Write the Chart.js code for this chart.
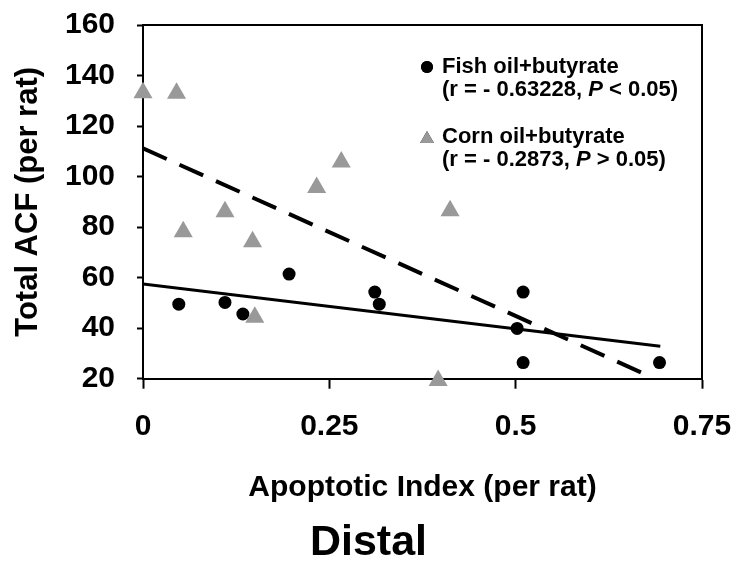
<!DOCTYPE html>
<html>
<head>
<meta charset="utf-8">
<script src="https://cdn.jsdelivr.net/npm/chart.js@4.4.1/dist/chart.umd.min.js"></script>
<style>
  html, body { margin: 0; padding: 0; background: #ffffff; }
  #wrap { width: 737px; height: 567px; }
</style>
</head>
<body>
<div id="wrap"><canvas id="acfChart" width="737" height="567"></canvas></div>
<script>
/* ============================================
   Distal: Total ACF vs Apoptotic Index
   ============================================ */

// Fish oil + butyrate (black circles)
const fishApoptotic = [0.048, 0.110, 0.134, 0.196, 0.311, 0.317, 0.510, 0.502, 0.510, 0.693];
const fishACF = [49.5, 50.2, 45.6, 61.4, 54.3, 49.5, 54.3, 39.9, 26.4, 26.4];

// Corn oil + butyrate (grey triangles)
const cornApoptotic = [0, 0.045, 0.054, 0.110, 0.147, 0.150, 0.233, 0.266, 0.412, 0.396];
const cornACF = [133.2, 133.0, 78.2, 86.1, 74.2, 44.3, 95.7, 105.8, 86.5, 19.3];

// Regression lines (end points as drawn)
const fishTrendX = [0, 0.694];
const fishTrendY = [57.5, 32.8];
const cornTrendX = [0, 0.678];
const cornTrendY = [111.2, 21.2];

// Axes
const xTicks = [0, 0.25, 0.5, 0.75];
const yTicks = [20, 40, 60, 80, 100, 120, 140, 160];

// Legend text
const legendFish = ['Fish oil+butyrate', '(r = - 0.63228, ', 'P', ' < 0.05)'];
const legendCorn = ['Corn oil+butyrate', '(r = - 0.2873, ', 'P', ' > 0.05)'];

const FONT = "'Liberation Sans', Arial, sans-serif";
const GREY = '#999999';

function toPoints(xs, ys) {
    return xs.map((x, i) => ({ x: x, y: ys[i] }));
}

/**
 * Frame on top and right of the plot area
 */
const framePlugin = {
    id: 'frame',
    beforeDatasetsDraw(chart) {
        const { ctx, chartArea: a } = chart;
        ctx.save();
        ctx.strokeStyle = '#000';
        ctx.lineWidth = 2;
        ctx.beginPath();
        ctx.moveTo(a.left, a.top);
        ctx.lineTo(a.right, a.top);
        ctx.lineTo(a.right, a.bottom);
        ctx.stroke();
        ctx.restore();
    }
};

/**
 * Two-line legend with italic P
 */
const legendPlugin = {
    id: 'twoLineLegend',
    afterDatasetsDraw(chart) {
        const { ctx, chartArea: a } = chart;
        const tx = a.left + 299;
        const mx = a.left + 284;
        const size = 22;

        function drawEntry(lines, y, style, color, radius) {
            Chart.helpers.drawPoint(ctx, {
                pointStyle: style, radius: radius, borderWidth: 0, rotation: 0
            }, mx, y + (style === 'triangle' ? 2 : 0));
            ctx.fillStyle = color;
            ctx.fill();

            ctx.fillStyle = '#000';
            ctx.textBaseline = 'middle';
            ctx.textAlign = 'left';
            ctx.font = 'bold ' + size + 'px ' + FONT;
            ctx.fillText(lines[0], tx, y);

            let x = tx;
            const y2 = y + 23;
            ctx.fillText(lines[1], x, y2);
            x += ctx.measureText(lines[1]).width;
            ctx.font = 'italic bold ' + size + 'px ' + FONT;
            ctx.fillText(lines[2], x, y2);
            x += ctx.measureText(lines[2]).width;
            ctx.font = 'bold ' + size + 'px ' + FONT;
            ctx.fillText(lines[3], x, y2);
        }

        ctx.save();
        drawEntry(legendFish, a.top + 42, 'circle', '#000', 6);
        drawEntry(legendCorn, a.top + 112, 'triangle', GREY, 8);
        ctx.restore();
    }
};

const tickFont = { family: FONT, size: 30, weight: 'bold' };

const config = {
    type: 'scatter',
    data: {
        datasets: [
            {
                label: 'Fish oil+butyrate',
                data: toPoints(fishApoptotic, fishACF),
                pointStyle: 'circle',
                pointRadius: 6.5,
                pointBackgroundColor: '#000',
                pointBorderWidth: 0,
                clip: false,
                order: 1
            },
            {
                label: 'Corn oil+butyrate',
                data: toPoints(cornApoptotic, cornACF),
                pointStyle: 'triangle',
                pointRadius: 11,
                pointBackgroundColor: GREY,
                pointBorderWidth: 0,
                clip: false,
                order: 2
            },
            {
                type: 'line',
                label: 'Fish trend',
                data: toPoints(fishTrendX, fishTrendY),
                borderColor: '#000',
                borderWidth: 3,
                pointRadius: 0,
                fill: false,
                order: 3
            },
            {
                type: 'line',
                label: 'Corn trend',
                data: toPoints(cornTrendX, cornTrendY),
                borderColor: '#000',
                borderWidth: 4,
                borderDash: [26, 14],
                pointRadius: 0,
                fill: false,
                order: 4
            }
        ]
    },
    options: {
        responsive: false,
        animation: false,
        layout: { padding: { left: 0, right: 0, top: 25, bottom: 0 } },
        plugins: {
            legend: { display: false },
            tooltip: { enabled: false },
            title: {
                display: true,
                position: 'bottom',
                text: 'Distal',
                color: '#000',
                font: { family: FONT, size: 43, weight: 'bold', lineHeight: 1.1 },
                padding: { top: 0, bottom: 0 }
            }
        },
        scales: {
            x: {
                type: 'linear',
                min: xTicks[0],
                max: xTicks[xTicks.length - 1],
                afterBuildTicks: (scale) => { scale.ticks = xTicks.map(v => ({ value: v })); },
                afterFit: (scale) => {
                    scale.height = 141;
                    scale.paddingLeft = 0;
                    scale.paddingRight = 35;
                },
                border: { display: true, color: '#000', width: 2 },
                grid: { drawOnChartArea: false, drawTicks: true, tickLength: 10, tickWidth: 2, tickColor: '#000' },
                ticks: {
                    color: '#000',
                    font: tickFont,
                    padding: 20,
                    maxRotation: 0,
                    callback: (v) => String(+v.toFixed(2))
                },
                title: {
                    display: true,
                    text: 'Apoptotic Index (per rat)',
                    color: '#000',
                    font: { family: FONT, size: 30, weight: 'bold' },
                    padding: { top: 0, bottom: 14 }
                }
            },
            y: {
                type: 'linear',
                min: yTicks[0],
                max: yTicks[yTicks.length - 1],
                afterBuildTicks: (scale) => { scale.ticks = yTicks.map(v => ({ value: v })); },
                afterFit: (scale) => {
                    scale.width = 143;
                    scale.paddingTop = 10;
                    scale.paddingBottom = 10;
                },
                border: { display: true, color: '#000', width: 2 },
                grid: { drawOnChartArea: false, drawTicks: true, tickLength: 6, tickWidth: 2, tickColor: '#000' },
                ticks: {
                    color: '#000',
                    font: tickFont,
                    padding: 22,
                    callback: (v) => String(v)
                },
                title: {
                    display: true,
                    text: 'Total ACF (per rat)',
                    color: '#000',
                    font: { family: FONT, size: 31, weight: 'bold' },
                    padding: { top: 10, bottom: 0 }
                }
            }
        }
    },
    plugins: [framePlugin, legendPlugin]
};

new Chart(document.getElementById('acfChart'), config);
</script>
</body>
</html>
